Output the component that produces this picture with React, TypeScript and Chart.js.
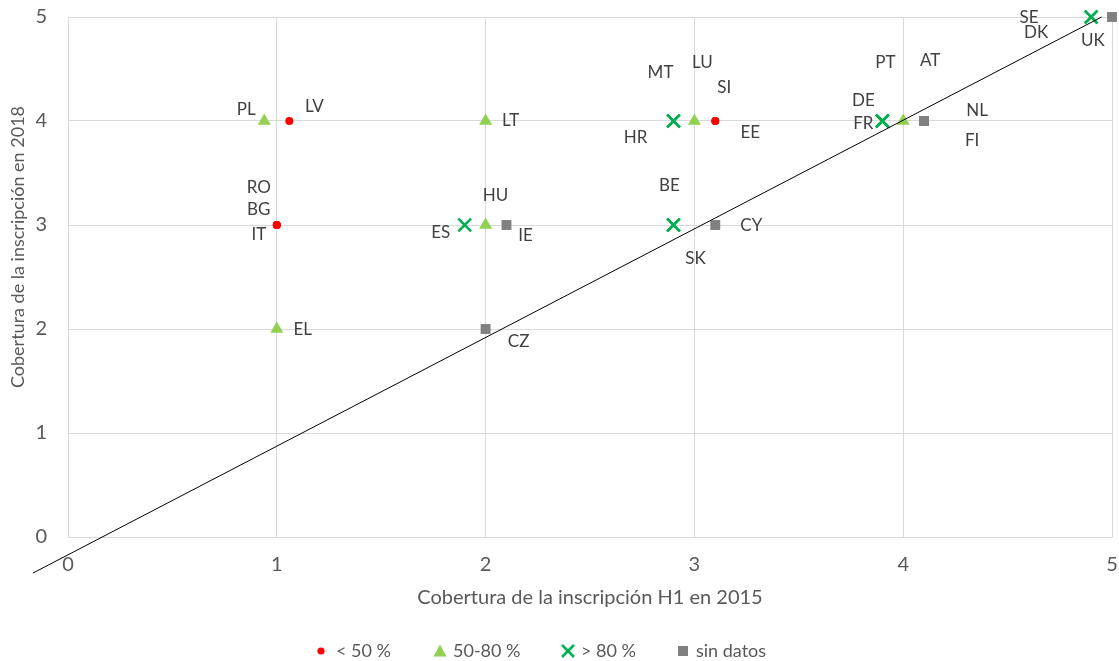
import React, { useEffect, useRef } from "react";
import { Chart, registerables } from "chart.js";

Chart.register(...registerables);

// ---- Data ----
const countryCodes = ["RO", "BG", "IT", "LV", "SI", "EE", "PL", "EL", "LT", "HU", "LU", "AT", "ES", "HR", "MT", "BE", "SK", "DE", "FR", "PT", "SE", "DK", "IE", "CZ", "CY", "NL", "FI", "UK"];
const coverage2015 = [1, 1, 1, 1.06, 3.1, 3.1, 0.94, 1, 2, 2, 3, 4, 1.9, 2.9, 2.9, 2.9, 2.9, 3.9, 3.9, 3.9, 4.9, 4.9, 2.1, 2, 3.1, 4.1, 4.1, 5];
const coverage2018 = [3, 3, 3, 4, 4, 4, 4, 2, 4, 3, 4, 4, 3, 4, 4, 3, 3, 4, 4, 4, 5, 5, 3, 2, 3, 4, 4, 5];
// group index: 0 "< 50 %", 1 "50-80 %", 2 "> 80 %", 3 "sin datos"
const countryGroup = [0, 0, 0, 0, 0, 0, 1, 1, 1, 1, 1, 1, 2, 2, 2, 2, 2, 2, 2, 2, 2, 2, 3, 3, 3, 3, 3, 3];
const groupNames = ["< 50 %", "50-80 %", "> 80 %", "sin datos"];
const trendX = [-0.168, 4.95];
const trendY = [-0.347, 5.0];
const axisTicks = [0, 1, 2, 3, 4, 5];

// ---- Styles ----
const labelOffsets: Record<string, [number, number]> = {
  PL: [-18, -11], LV: [25, -14], RO: [-18, -37], BG: [-18, -15], IT: [-18, 10],
  EL: [26, 1], LT: [25, 0], HU: [10, -29], ES: [-24, 8], IE: [19, 11], CZ: [33, 13],
  MT: [-13, -48], HR: [-38, 17], LU: [8, -58], SI: [9, -33], EE: [35, 12],
  BE: [-4, -39], SK: [22, 34], CY: [36, 1], DE: [-19, -20], FR: [-19, 3],
  PT: [3, -58], AT: [27, -60], NL: [53, -10], FI: [48, 20], SE: [-62, 1],
  DK: [-55, 16], UK: [-19, 24],
};
const legendMarkerX = [321, 440, 568, 683];
const groupStyles = [
  { pointStyle: "circle", radius: 4, bg: "#FF0000", border: "#FF0000", bw: 0 },
  { pointStyle: "triangle", radius: 7.5, bg: "#92D050", border: "#92D050", bw: 0 },
  { pointStyle: "crossRot", radius: 9, bg: "#00B050", border: "#00B050", bw: 2.5 },
  { pointStyle: "rect", radius: 7, bg: "#808080", border: "#808080", bw: 0 },
];
const FONT = "Lato, 'Open Sans', sans-serif";
const TEXT = "#595959";
const LABEL = "#404040";

function drawMarker(ctx: CanvasRenderingContext2D, g: number, cx: number, cy: number) {
  const s = groupStyles[g];
  ctx.save();
  ctx.fillStyle = s.bg;
  ctx.strokeStyle = s.border;
  if (g === 0) {
    ctx.beginPath();
    ctx.arc(cx, cy, 3.6, 0, Math.PI * 2);
    ctx.fill();
  } else if (g === 1) {
    ctx.beginPath();
    ctx.moveTo(cx, cy - 6.5);
    ctx.lineTo(cx + 6.5, cy + 5.5);
    ctx.lineTo(cx - 6.5, cy + 5.5);
    ctx.closePath();
    ctx.fill();
  } else if (g === 2) {
    ctx.lineWidth = 2.5;
    ctx.beginPath();
    ctx.moveTo(cx - 6, cy - 6);
    ctx.lineTo(cx + 6, cy + 6);
    ctx.moveTo(cx + 6, cy - 6);
    ctx.lineTo(cx - 6, cy + 6);
    ctx.stroke();
  } else {
    ctx.fillRect(cx - 5, cy - 5, 10, 10);
  }
  ctx.restore();
}

const annotationsPlugin = {
  id: "annotationsPlugin",
  afterDatasetsDraw(chart: any) {
    const ctx = chart.ctx as CanvasRenderingContext2D;
    const xs = chart.scales.x;
    const ys = chart.scales.y;
    ctx.save();
    // data labels
    ctx.font = `17px ${FONT}`;
    ctx.fillStyle = LABEL;
    ctx.textAlign = "center";
    ctx.textBaseline = "middle";
    countryCodes.forEach((c, i) => {
      const px = xs.getPixelForValue(coverage2015[i]);
      const py = ys.getPixelForValue(coverage2018[i]);
      const off = labelOffsets[c] || [0, 0];
      ctx.fillText(c, px + off[0], py + off[1]);
    });
    // y axis title
    const area = chart.chartArea;
    ctx.font = `18px ${FONT}`;
    ctx.fillStyle = TEXT;
    ctx.translate(18, (area.top + area.bottom) / 2 - 30);
    ctx.rotate(-Math.PI / 2);
    ctx.fillText("Cobertura de la inscripción en 2018", 0, 0);
    ctx.restore();

    // legend
    ctx.save();
    ctx.font = `18px ${FONT}`;
    ctx.textAlign = "left";
    ctx.textBaseline = "middle";
    const ly = 651;
    groupNames.forEach((n, g) => {
      const cx = legendMarkerX[g];
      drawMarker(ctx, g, cx, ly);
      ctx.fillStyle = TEXT;
      ctx.fillText(n, cx + (g === 0 ? 15 : 13), ly);
    });
    ctx.restore();
  },
};

const noPad = (s: any) => {
  s.paddingTop = 0;
  s.paddingBottom = 0;
  s.paddingLeft = 0;
  s.paddingRight = 0;
};

export default function App() {
  const ref = useRef<HTMLCanvasElement | null>(null);
  useEffect(() => {
    if (!ref.current) return;
    const scatterSets = groupNames.map((name, g) => {
      const s = groupStyles[g];
      const pts = countryCodes
        .map((_, i) => i)
        .filter((i) => countryGroup[i] === g)
        .map((i) => ({ x: coverage2015[i], y: coverage2018[i] }));
      return {
        type: "scatter" as const,
        label: name,
        data: pts,
        pointStyle: s.pointStyle,
        pointRadius: s.radius,
        pointHoverRadius: s.radius,
        pointBackgroundColor: s.bg,
        pointBorderColor: s.border,
        pointBorderWidth: s.bw,
        clip: false as any,
        order: 2,
      };
    });
    const chart = new Chart(ref.current, {
      type: "scatter",
      data: {
        datasets: [
          {
            type: "line" as const,
            label: "trend",
            data: trendX.map((x, i) => ({ x, y: trendY[i] })),
            borderColor: "#000000",
            borderWidth: 1,
            pointRadius: 0,
            showLine: true,
            fill: false,
            clip: false as any,
            order: 1,
          },
          ...scatterSets,
        ] as any,
      },
      options: {
        animation: false,
        responsive: false,
        events: [],
        layout: { autoPadding: false, padding: { top: 17, right: 7, left: 0, bottom: 50 } },
        plugins: { legend: { display: false }, tooltip: { enabled: false } },
        scales: {
          x: {
            type: "linear",
            min: 0,
            max: 5,
            afterBuildTicks: (s: any) => { s.ticks = axisTicks.map((v) => ({ value: v })); },
            afterFit: (s: any) => { s.height = 74; noPad(s); },
            grid: { color: "#d9d9d9", drawTicks: false },
            border: { color: "#d9d9d9" },
            ticks: { color: TEXT, font: { family: FONT, size: 20 }, padding: 16 },
            title: {
              display: true,
              text: "Cobertura de la inscripción H1 en 2015",
              color: TEXT,
              font: { family: FONT, size: 20 },
              padding: { top: 0, bottom: 1.5 },
            },
          },
          y: {
            type: "linear",
            min: 0,
            max: 5,
            afterBuildTicks: (s: any) => { s.ticks = axisTicks.map((v) => ({ value: v })); },
            afterFit: (s: any) => { s.width = 68; noPad(s); },
            grid: { color: "#d9d9d9", drawTicks: false },
            border: { color: "#d9d9d9" },
            ticks: { color: TEXT, font: { family: FONT, size: 20 }, padding: 21 },
          },
        },
      },
      plugins: [annotationsPlugin],
    });
    return () => chart.destroy();
  }, []);
  return (
    <div style={{ position: "absolute", left: 0, top: 0, width: 1119, height: 661 }}>
      <canvas ref={ref} width={1119} height={661} />
    </div>
  );
}
